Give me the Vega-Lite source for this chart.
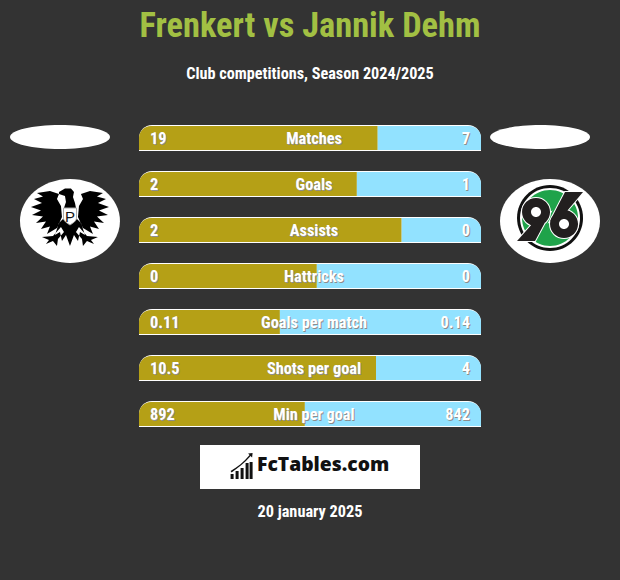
{
"$schema":"https://vega.github.io/schema/vega-lite/v6.json",
"width":620,"height":580,
"autosize":{"type":"none"},
"padding":0,
"background":"#333333",
"config":{"view":{"stroke":null},"text":{"font":"Roboto Condensed, DejaVu Sans Condensed","fontWeight":"bold"}},
"datasets":{"stats":[
{"row":0,"statistic":"Matches","home":"19","away":"7","share":0.698,"start":0,"end":1},
{"row":1,"statistic":"Goals","home":"2","away":"1","share":0.637,"start":0,"end":1},
{"row":2,"statistic":"Assists","home":"2","away":"0","share":0.768,"start":0,"end":1},
{"row":3,"statistic":"Hattricks","home":"0","away":"0","share":0.52,"start":0,"end":1},
{"row":4,"statistic":"Goals per match","home":"0.11","away":"0.14","share":0.412,"start":0,"end":1},
{"row":5,"statistic":"Shots per goal","home":"10.5","away":"4","share":0.693,"start":0,"end":1},
{"row":6,"statistic":"Min per goal","home":"892","away":"842","share":0.485,"start":0,"end":1}
]},
"data":{"name":"stats"},
"layer":[
{"mark":{"type":"bar","size":26,"fill":"#ffffff","cornerRadiusTopLeft":13,"cornerRadiusTopRight":13},
 "encoding":{"x":{"field":"start","type":"quantitative","axis":null,"scale":{"domain":[-0.4064,1.4064],"nice":false,"zero":false,"padding":0}},"x2":{"field":"end"},"y":{"field":"row","type":"quantitative","axis":null,"scale":{"domain":[9.6087,-3],"nice":false,"zero":false,"padding":0}}}},
{"mark":{"type":"bar","size":24,"fill":"#b5a016","cornerRadiusTopLeft":12},
 "encoding":{"x":{"field":"start","type":"quantitative"},"x2":{"field":"share"},"y":{"field":"row","type":"quantitative"}}},
{"mark":{"type":"bar","size":24,"fill":"#92e2ff","cornerRadiusTopRight":12},
 "encoding":{"x":{"field":"share","type":"quantitative"},"x2":{"field":"end"},"y":{"field":"row","type":"quantitative"}}},
{"mark":{"type":"text","fontSize":16.3,"fill":"#8d8d8d","dx":5,"dy":2,"align":"center","baseline":"middle"},
 "encoding":{"x":{"datum":0.5,"type":"quantitative"},"y":{"field":"row","type":"quantitative"},"text":{"field":"statistic"}}},
{"mark":{"type":"text","fontSize":16.3,"fill":"#ffffff","dx":4,"dy":1,"align":"center","baseline":"middle"},
 "encoding":{"x":{"datum":0.5,"type":"quantitative"},"y":{"field":"row","type":"quantitative"},"text":{"field":"statistic"}}},
{"mark":{"type":"text","fontSize":16.3,"fill":"#8d8d8d","dx":12,"dy":2,"align":"left","baseline":"middle"},
 "encoding":{"x":{"datum":0,"type":"quantitative"},"y":{"field":"row","type":"quantitative"},"text":{"field":"home"}}},
{"mark":{"type":"text","fontSize":16.3,"fill":"#ffffff","dx":11,"dy":1,"align":"left","baseline":"middle"},
 "encoding":{"x":{"datum":0,"type":"quantitative"},"y":{"field":"row","type":"quantitative"},"text":{"field":"home"}}},
{"mark":{"type":"text","fontSize":16.3,"fill":"#8d8d8d","dx":-10,"dy":2,"align":"right","baseline":"middle"},
 "encoding":{"x":{"datum":1,"type":"quantitative"},"y":{"field":"row","type":"quantitative"},"text":{"field":"away"}}},
{"mark":{"type":"text","fontSize":16.3,"fill":"#ffffff","dx":-11,"dy":1,"align":"right","baseline":"middle"},
 "encoding":{"x":{"datum":1,"type":"quantitative"},"y":{"field":"row","type":"quantitative"},"text":{"field":"away"}}},
{"data":{"values":[{"a":1}]},"layer":[
{"mark":{"type":"text","fontSize":34.4,"fill":"#a2c043","align":"center","baseline":"middle"},
 "encoding":{"x":{"datum":0.5,"type":"quantitative"},"y":{"datum":-2.413,"type":"quantitative"},"text":{"value":"Frenkert vs Jannik Dehm"}}},
{"mark":{"type":"text","fontSize":16.2,"fill":"#ffffff","align":"center","baseline":"middle"},
 "encoding":{"x":{"datum":0.5,"type":"quantitative"},"y":{"datum":-1.402,"type":"quantitative"},"text":{"value":"Club competitions, Season 2024/2025"}}},
{"mark":{"type":"text","fontSize":16.3,"fill":"#ffffff","align":"center","baseline":"middle"},
 "encoding":{"x":{"datum":0.5,"type":"quantitative"},"y":{"datum":8.12,"type":"quantitative"},"text":{"value":"20 january 2025"}}},
{"mark":{"type":"point","filled":true,"opacity":1,"size":4,"fill":"#ffffff","shape":"M-110,-22L110,-22L110,22L-110,22Z"},
 "encoding":{"x":{"datum":0.5,"type":"quantitative"},"y":{"datum":7.152,"type":"quantitative"}}},
{"mark":{"type":"text","font":"Open Sans","fontWeight":800,"fontSize":19.3,"fill":"#111111","align":"left","baseline":"middle"},
 "encoding":{"x":{"datum":0.345,"type":"quantitative"},"y":{"datum":7.11,"type":"quantitative"},"text":{"value":"FcTables.com"}}},
{"mark":{"type":"point","filled":true,"opacity":1,"size":4,"fill":"#111111","shape":"M-11,8L-8,8L-8,13L-11,13ZM-6,5L-3,5L-3,13L-6,13ZM-1,2L2,2L2,13L-1,13ZM4,-3L7,-3L7,13L4,13ZM8,-4L11,-4L11,13L8,13ZM-11,5C-4,1,2,-4,8,-11L6.5,-12.5L11,-13L10.5,-8.5L9,-10C3,-3,-4,2,-10,6.5Z"},
 "encoding":{"x":{"datum":0.3,"type":"quantitative"},"y":{"datum":7.13,"type":"quantitative"}}},
{"mark":{"type":"point","filled":true,"opacity":1,"size":4,"fill":"#ffffff","shape":"M-50,0A50,12,0,1,1,50,0A50,12,0,1,1,-50,0Z"},
 "encoding":{"x":{"datum":-0.231,"type":"quantitative"},"y":{"datum":-0.022,"type":"quantitative"}}},
{"mark":{"type":"point","filled":true,"opacity":1,"size":4,"fill":"#ffffff","shape":"M-50,0A50,12,0,1,1,50,0A50,12,0,1,1,-50,0Z"},
 "encoding":{"x":{"datum":1.1725,"type":"quantitative"},"y":{"datum":-0.022,"type":"quantitative"}}},
{"mark":{"type":"point","filled":true,"opacity":1,"size":4,"fill":"#ffffff","shape":"M-50,0A50,42,0,1,1,50,0A50,42,0,1,1,-50,0Z"},
 "encoding":{"x":{"datum":-0.2018,"type":"quantitative"},"y":{"datum":1.804,"type":"quantitative"}}},
{"mark":{"type":"point","filled":true,"opacity":1,"size":4,"fill":"#ffffff","shape":"M-50,0A50,42,0,1,1,50,0A50,42,0,1,1,-50,0Z"},
 "encoding":{"x":{"datum":1.2018,"type":"quantitative"},"y":{"datum":1.804,"type":"quantitative"}}},
{"mark":{"type":"point","filled":true,"opacity":1,"size":4,"fill":"#000000","shape":"M-11,-25L-20,-28L-33,-26L-27,-22.5L-36,-20L-28,-16L-39,-12L-29,-8.5L-38,-4L-27,-2.5L-34,4L-24,2.5L-29,10L-20,7.5L-23,15L-13,9L-8,-2L-9,-13L-13,-20ZM11,-25L13,-20L9,-13L8,-2L13,9L23,15L20,7.5L29,10L24,2.5L34,4L27,-2.5L38,-4L29,-8.5L39,-12L28,-16L36,-20L27,-22.5L33,-26L20,-28ZM-11,-27L-5,-30.5L1,-30.5L4,-27L3,-22L5,-16L6,-11L-6,-11L-4,-17L-5,-23L-11,-25ZM-11,4L-7,0L7,0L11,4L15,16L10,13L8,22L4,16L0,27L-4,16L-8,22L-10,13L-15,16ZM-9,8L-17,17L-28,18L-21,21L-24,25L-17,22L-13,27L-12,20L-6,13ZM9,8L6,13L12,20L13,27L17,22L24,25L21,21L28,18L17,17Z"},
 "encoding":{"x":{"datum":-0.2018,"type":"quantitative"},"y":{"datum":1.761,"type":"quantitative"}}},
{"mark":{"type":"point","filled":true,"opacity":1,"size":4,"fill":"#ffffff","stroke":"#aaaaaa","strokeWidth":1,"shape":"M-6.5,-11L6.5,-11L6.5,-1C6.5,2,3,4,0,6C-3,4,-6.5,2,-6.5,-1Z"},
 "encoding":{"x":{"datum":-0.2018,"type":"quantitative"},"y":{"datum":1.761,"type":"quantitative"}}},
{"mark":{"type":"text","font":"Liberation Sans","fontWeight":"normal","fontSize":15,"fill":"#111111","align":"center","baseline":"middle"},
 "encoding":{"x":{"datum":-0.2018,"type":"quantitative"},"y":{"datum":1.72,"type":"quantitative"},"text":{"value":"P"}}},
{"mark":{"type":"point","filled":true,"opacity":1,"size":4,"fill":"#111111","shape":"M-33,0A33,33,0,1,1,33,0A33,33,0,1,1,-33,0Z"},
 "encoding":{"x":{"datum":1.2018,"type":"quantitative"},"y":{"datum":1.74,"type":"quantitative"}}},
{"mark":{"type":"point","filled":true,"opacity":1,"size":4,"fill":"#ffffff","shape":"M-30,0A30,30,0,1,1,30,0A30,30,0,1,1,-30,0Z"},
 "encoding":{"x":{"datum":1.2018,"type":"quantitative"},"y":{"datum":1.74,"type":"quantitative"}}},
{"mark":{"type":"point","filled":true,"opacity":1,"size":4,"fill":"#1fa34a","shape":"M-28,0A28,28,0,1,1,28,0A28,28,0,1,1,-28,0Z"},
 "encoding":{"x":{"datum":1.2018,"type":"quantitative"},"y":{"datum":1.74,"type":"quantitative"}}},
{"mark":{"type":"point","filled":true,"opacity":1,"size":4,"fill":"#221f1f","stroke":"#ffffff","strokeWidth":2,"shape":"M-28,-6A14,14,0,1,1,0,-6A14,14,0,1,1,-28,-6ZM0,-5L-15,23L-33,23L-17,5ZM0,6A14,14,0,1,1,28,6A14,14,0,1,1,0,6ZM0,3L15,-26L33,-26L17,-7Z"},
 "encoding":{"x":{"datum":1.2018,"type":"quantitative"},"y":{"datum":1.74,"type":"quantitative"}}},
{"mark":{"type":"point","filled":true,"opacity":1,"size":4,"fill":"#221f1f","shape":"M-28,-6A14,14,0,1,1,0,-6A14,14,0,1,1,-28,-6ZM0,-5L-15,23L-33,23L-17,5ZM0,6A14,14,0,1,1,28,6A14,14,0,1,1,0,6ZM0,3L15,-26L33,-26L17,-7Z"},
 "encoding":{"x":{"datum":1.2018,"type":"quantitative"},"y":{"datum":1.74,"type":"quantitative"}}},
{"mark":{"type":"point","filled":true,"opacity":1,"size":4,"fill":"#ffffff","shape":"M-19,-6A5,5,0,1,1,-9,-6A5,5,0,1,1,-19,-6ZM9,6A5,5,0,1,1,19,6A5,5,0,1,1,9,6Z"},
 "encoding":{"x":{"datum":1.2018,"type":"quantitative"},"y":{"datum":1.74,"type":"quantitative"}}}
]}
]}
